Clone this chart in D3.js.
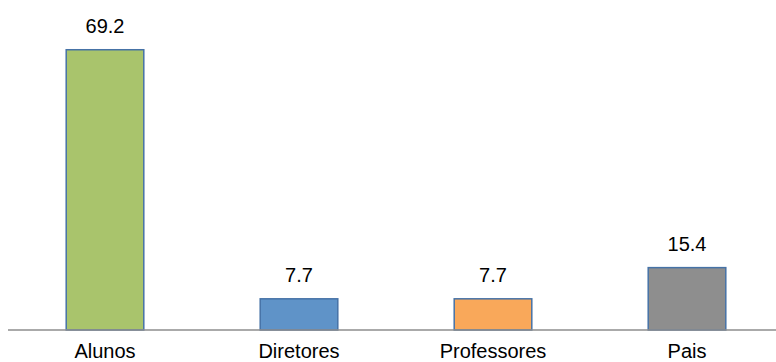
<!DOCTYPE html>
<html>
<head>
<meta charset="utf-8">
<script src="https://cdn.jsdelivr.net/npm/d3@7"></script>
<style>
  html, body { margin: 0; padding: 0; background: #fff; }
  svg { display: block; }
  text { font-family: "Liberation Sans", Arial, Helvetica, sans-serif; fill: #000; }
</style>
</head>
<body>
<svg id="chart" width="776" height="362"></svg>
<script>
// Share of respondents by group (%)
const categories = ["Alunos", "Diretores", "Professores", "Pais"];
const values = [69.2, 7.7, 7.7, 15.4];
const colors = ["#A9C46C", "#5F93C8", "#F9A85A", "#8E8E8E"];

const width = 776, height = 362;
const baseline = 330;

const svg = d3.select("#chart");

const x = d3.scaleBand()
  .domain(categories)
  .range([8, 784])
  .paddingInner(0.6)
  .paddingOuter(0.3);

const y = d3.scaleLinear()
  .domain([0, 80])
  .range([baseline, 6]);

// Bars
svg.selectAll("rect.bar")
  .data(categories)
  .enter().append("rect")
  .attr("class", "bar")
  .attr("x", d => x(d))
  .attr("y", (d, i) => y(values[i]))
  .attr("width", x.bandwidth())
  .attr("height", (d, i) => baseline - y(values[i]))
  .attr("fill", (d, i) => colors[i])
  .attr("stroke", "#4672A6")
  .attr("stroke-width", 1.5);

// Category axis line
svg.append("line")
  .attr("x1", 8).attr("x2", width)
  .attr("y1", baseline).attr("y2", baseline)
  .attr("stroke", "#8E8E8E")
  .attr("stroke-width", 1.5);

// Value labels
svg.selectAll("text.val")
  .data(categories)
  .enter().append("text")
  .attr("class", "val")
  .attr("x", d => x(d) + x.bandwidth() / 2)
  .attr("y", (d, i) => y(values[i]) - 17)
  .attr("text-anchor", "middle")
  .style("font-size", "20px")
  .text((d, i) => values[i].toFixed(1));

// Category labels
svg.selectAll("text.cat")
  .data(categories)
  .enter().append("text")
  .attr("class", "cat")
  .attr("x", d => x(d) + x.bandwidth() / 2)
  .attr("y", 358)
  .attr("text-anchor", "middle")
  .style("font-size", "20px")
  .text(d => d);
</script>
</body>
</html>
